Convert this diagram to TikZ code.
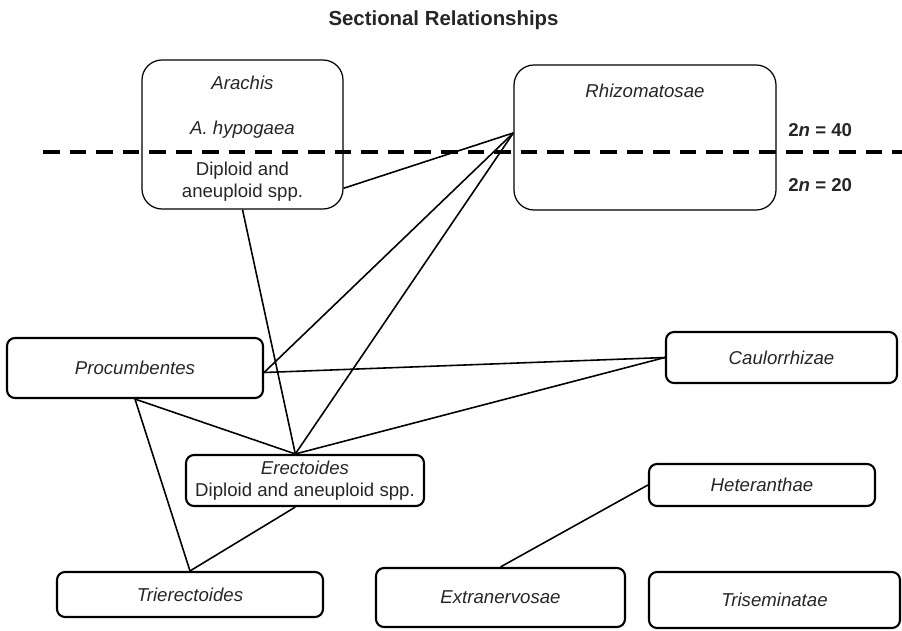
\documentclass[tikz,border=0pt]{standalone}
\usepackage{fontspec}
\setmainfont{Liberation Sans}

\begin{document}
\begin{tikzpicture}[font=\fontsize{10.6}{12.5}\selectfont,text=black!85,
	sect node/.style={draw=black,rounded corners=0.16cm,line width=1.2pt,inner sep=0pt,font=\fontsize{10.6}{12.5}\selectfont\itshape},
	big node/.style={draw=black,rounded corners=0.4cm,line width=0.7pt,inner sep=0pt},
	link/.style={line width=0.9pt},
	ploidy/.style={line width=2.3pt,dash pattern=on 9.4pt off 5.7pt},
	count/.style={anchor=west,inner sep=0pt,font=\fontsize{10.6}{12.5}\selectfont\bfseries}]
	
	\useasboundingbox (0,0) rectangle (18.04,12.6);
	\node[font=\fontsize{11.6}{13.5}\selectfont\bfseries] (title) at (8.87,12.2) {Sectional Relationships};
	
	% top row, across the ploidy line
	\node[big node,minimum width=4.02cm,minimum height=2.98cm] (ara) at (4.85,9.91) {};
	\node (aratxt) at (4.85,10.94) {\itshape Arachis};
	\node (hyptxt) at (4.85,10.0) {\itshape A. hypogaea};
	\node[align=center] (diptxt) at (4.85,8.96) {Diploid and\\aneuploid spp.};
	\node[big node,minimum width=5.24cm,minimum height=2.9cm] (rhi) at (12.9,9.85) {};
	\node (rhitxt) at (12.9,10.78) {\itshape Rhizomatosae};
	
	\coordinate (dl) at (0.86,9.56);
	\coordinate (dr) at (18.04,9.56);
	\draw[ploidy] (dl) -- (dr);
	\node[count] (n40) at (15.76,10.0) {2\textit{n} = 40};
	\node[count] (n20) at (15.76,8.9) {2\textit{n} = 20};
	
	\node[sect node,minimum width=5.12cm,minimum height=1.2cm] (proc) at (2.7,5.24) {Procumbentes};
	\node[sect node,minimum width=4.62cm,minimum height=1.02cm] (caul) at (15.63,5.45) {Caulorrhizae};
	\node[sect node,minimum width=4.76cm,minimum height=1.02cm,align=center] (ere) at (6.1,2.99) {Erectoides\\\upshape Diploid and aneuploid spp.};
	\node[sect node,minimum width=4.52cm,minimum height=0.84cm] (het) at (15.24,2.9) {Heteranthae};
	\node[sect node,minimum width=5.32cm,minimum height=0.9cm] (trie) at (3.8,0.71) {Trierectoides};
	\node[sect node,minimum width=4.98cm,minimum height=1.18cm] (ext) at (10.01,0.65) {Extranervosae};
	\node[sect node,minimum width=5.02cm,minimum height=1.12cm] (tris) at (15.49,0.6) {Triseminatae};
	
	\draw[link] (ara.south) -- (ere.110);
	\draw[link] (ara.-28) -- (rhi.178);
	\draw[link] (rhi.178) -- (proc.-2);
	\draw[link] (rhi.178) -- (ere.110);
	\draw[link] (proc.-2) -- (caul.west);
	\draw[link] (ere.110) -- (caul.west);
	\draw[link] (proc.south) -- (ere.110);
	\draw[link] (proc.south) -- (trie.north);
	\draw[link] (ere.-110) -- (trie.north);
	\draw[link] (het.west) -- (ext.north);
\end{tikzpicture}
\end{document}
